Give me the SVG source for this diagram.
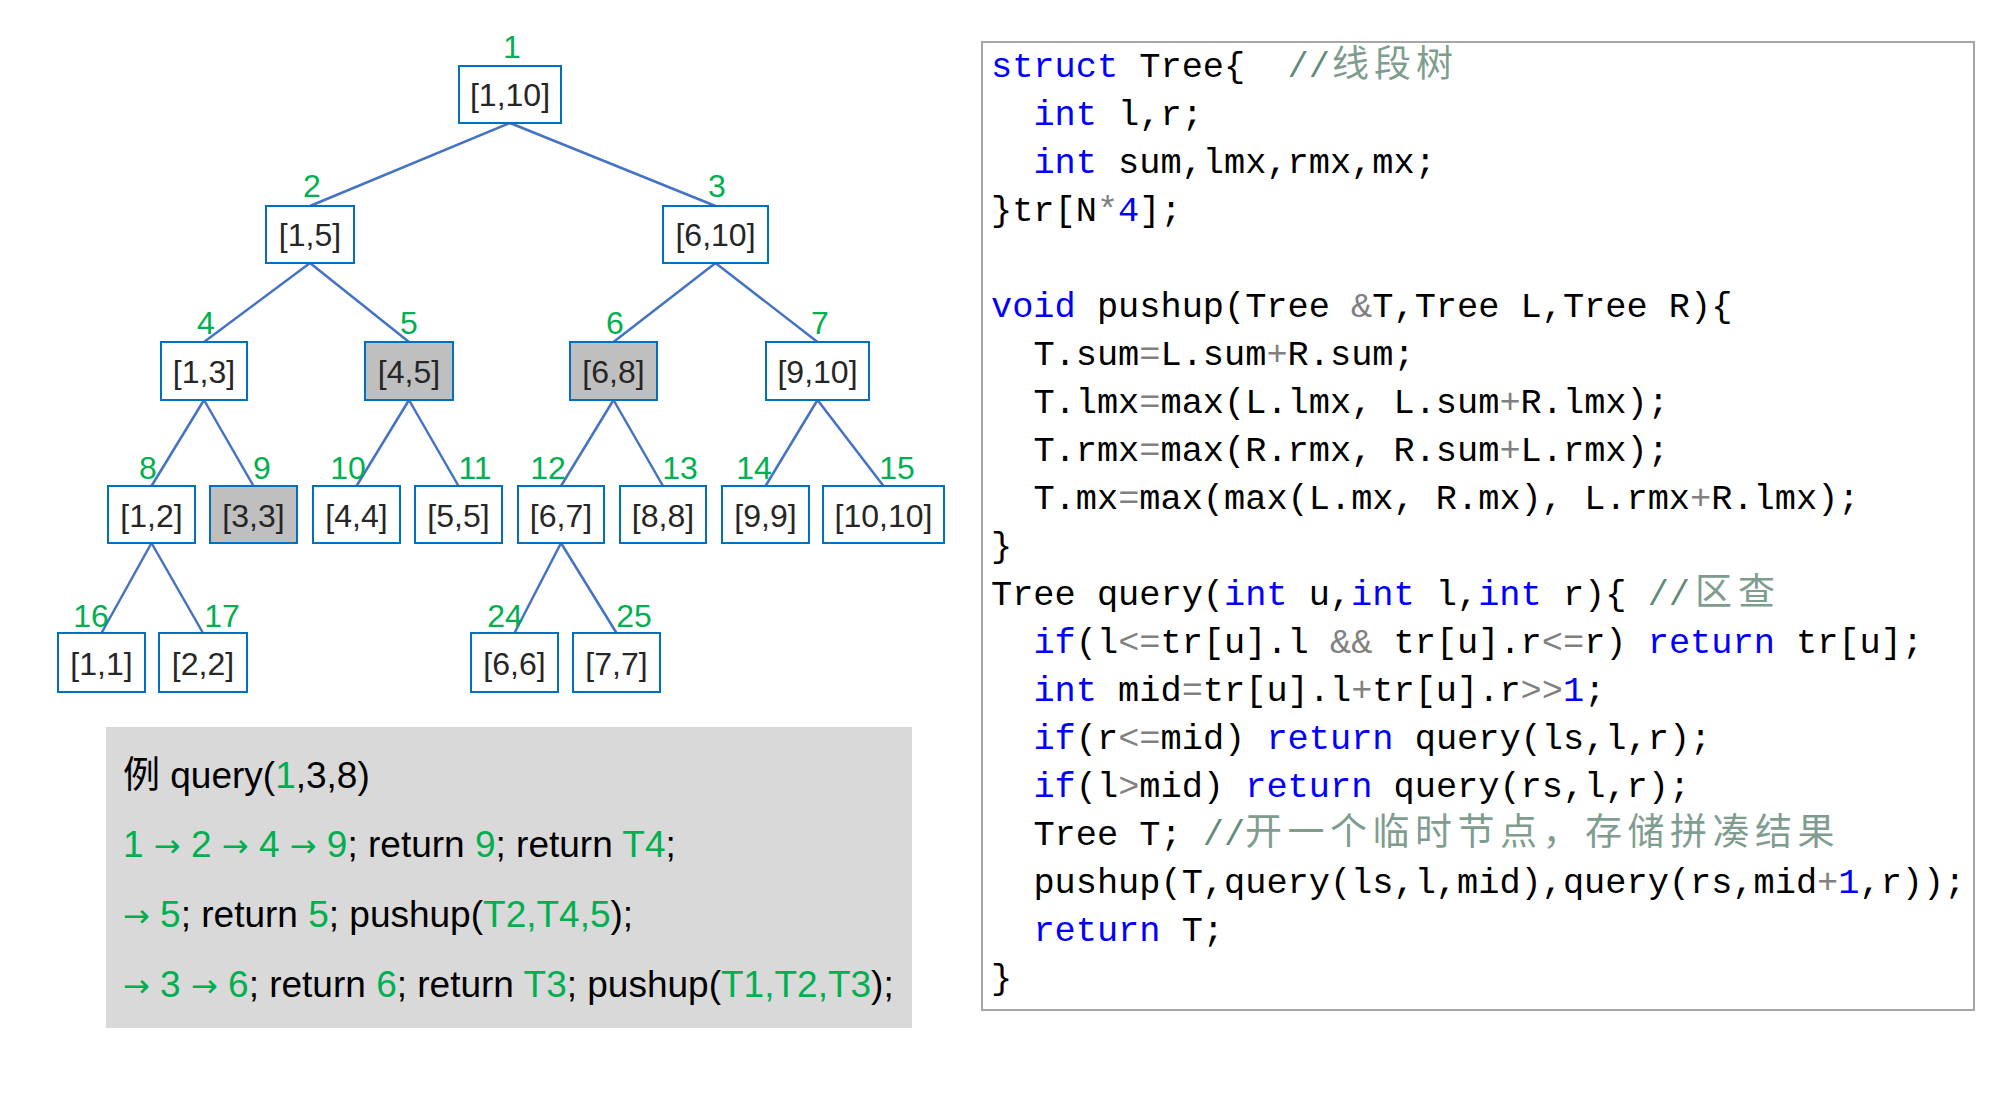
<svg xmlns="http://www.w3.org/2000/svg" width="1993" height="1093" viewBox="0 0 1993 1093">
<style>
.box{fill:#ffffff;stroke:#0070c0;stroke-width:2}
.hl{fill:#bfbfbf}
.nt{font-family:"Liberation Sans",Arial,sans-serif;font-size:32px;fill:#262626;text-anchor:middle}
.lb{font-family:"Liberation Sans",Arial,sans-serif;font-size:32px;fill:#00b050;text-anchor:middle}
.edge{stroke:#4472c4;stroke-width:2.5;fill:none}
.ex{font-family:"Liberation Sans",Arial,"Noto Sans CJK SC",sans-serif;font-size:37px;fill:#000000;white-space:pre}
.ar{font-family:"DejaVu Sans",sans-serif;font-size:32px}
.g{fill:#00b050}
.code{font-family:"Liberation Mono","DejaVu Sans Mono",monospace;font-size:35.3px;fill:#000000;white-space:pre}
.kw{fill:#0000ff}
.op{fill:#808080}
.cm{fill:#5f8c7c}
.cjk{font-family:"Noto Sans CJK SC",sans-serif;font-size:37px;fill:#7f9d8f}
</style>
<g id="connectors">
<line class="edge" x1="510" y1="123" x2="310" y2="206"/>
<line class="edge" x1="510" y1="123" x2="715.5" y2="206"/>
<line class="edge" x1="310" y1="263" x2="204" y2="342"/>
<line class="edge" x1="310" y1="263" x2="409" y2="342"/>
<line class="edge" x1="715.5" y1="263" x2="613.5" y2="342"/>
<line class="edge" x1="715.5" y1="263" x2="817.5" y2="342"/>
<line class="edge" x1="204" y1="400" x2="151.5" y2="486"/>
<line class="edge" x1="204" y1="400" x2="253.5" y2="486"/>
<line class="edge" x1="409" y1="400" x2="356.5" y2="486"/>
<line class="edge" x1="409" y1="400" x2="458.5" y2="486"/>
<line class="edge" x1="613.5" y1="400" x2="561" y2="486"/>
<line class="edge" x1="613.5" y1="400" x2="663" y2="486"/>
<line class="edge" x1="817.5" y1="400" x2="765.5" y2="486"/>
<line class="edge" x1="817.5" y1="400" x2="883.5" y2="486"/>
<line class="edge" x1="151.5" y1="543" x2="101.5" y2="633"/>
<line class="edge" x1="151.5" y1="543" x2="203" y2="633"/>
<line class="edge" x1="561" y1="543" x2="514.5" y2="633"/>
<line class="edge" x1="561" y1="543" x2="616.5" y2="633"/>
</g>
<g id="n1"><rect class="box" x="459" y="66" width="102" height="57"/><text class="nt" x="510" y="106">[1,10]</text><text class="lb" x="512" y="58">1</text></g>
<g id="n2"><rect class="box" x="266" y="206" width="88" height="57"/><text class="nt" x="310" y="246">[1,5]</text><text class="lb" x="312" y="197">2</text></g>
<g id="n3"><rect class="box" x="663" y="206" width="105" height="57"/><text class="nt" x="715.5" y="246">[6,10]</text><text class="lb" x="717" y="197">3</text></g>
<g id="n4"><rect class="box" x="161" y="342" width="86" height="58"/><text class="nt" x="204" y="383">[1,3]</text><text class="lb" x="206" y="334">4</text></g>
<g id="n5"><rect class="box hl" x="365" y="342" width="88" height="58"/><text class="nt" x="409" y="383">[4,5]</text><text class="lb" x="409" y="334">5</text></g>
<g id="n6"><rect class="box hl" x="570" y="342" width="87" height="58"/><text class="nt" x="613.5" y="383">[6,8]</text><text class="lb" x="615" y="334">6</text></g>
<g id="n7"><rect class="box" x="766" y="342" width="103" height="58"/><text class="nt" x="817.5" y="383">[9,10]</text><text class="lb" x="820" y="334">7</text></g>
<g id="n8"><rect class="box" x="108" y="486" width="87" height="57"/><text class="nt" x="151.5" y="527">[1,2]</text><text class="lb" x="148" y="479">8</text></g>
<g id="n9"><rect class="box hl" x="210" y="486" width="87" height="57"/><text class="nt" x="253.5" y="527">[3,3]</text><text class="lb" x="262" y="479">9</text></g>
<g id="n10"><rect class="box" x="313" y="486" width="87" height="57"/><text class="nt" x="356.5" y="527">[4,4]</text><text class="lb" x="348" y="479">10</text></g>
<g id="n11"><rect class="box" x="415" y="486" width="87" height="57"/><text class="nt" x="458.5" y="527">[5,5]</text><text class="lb" x="475" y="479">11</text></g>
<g id="n12"><rect class="box" x="518" y="486" width="86" height="57"/><text class="nt" x="561" y="527">[6,7]</text><text class="lb" x="548" y="479">12</text></g>
<g id="n13"><rect class="box" x="620" y="486" width="86" height="57"/><text class="nt" x="663" y="527">[8,8]</text><text class="lb" x="680" y="479">13</text></g>
<g id="n14"><rect class="box" x="722" y="486" width="87" height="57"/><text class="nt" x="765.5" y="527">[9,9]</text><text class="lb" x="754" y="479">14</text></g>
<g id="n15"><rect class="box" x="823" y="486" width="121" height="57"/><text class="nt" x="883.5" y="527">[10,10]</text><text class="lb" x="897" y="479">15</text></g>
<g id="n16"><rect class="box" x="58" y="633" width="87" height="59"/><text class="nt" x="101.5" y="675">[1,1]</text><text class="lb" x="91" y="627">16</text></g>
<g id="n17"><rect class="box" x="159" y="633" width="88" height="59"/><text class="nt" x="203" y="675">[2,2]</text><text class="lb" x="222" y="627">17</text></g>
<g id="n24"><rect class="box" x="471" y="633" width="87" height="59"/><text class="nt" x="514.5" y="675">[6,6]</text><text class="lb" x="505" y="627">24</text></g>
<g id="n25"><rect class="box" x="573" y="633" width="87" height="59"/><text class="nt" x="616.5" y="675">[7,7]</text><text class="lb" x="634" y="627">25</text></g>
<g id="example">
<rect x="106" y="727" width="806" height="301" fill="#d9d9d9"/>
<text class="ex" x="123" y="788">例 query(<tspan class="g">1</tspan>,3,8)</text>
<text class="ex" x="123" y="857"><tspan class="g">1 <tspan class="ar">→</tspan> 2 <tspan class="ar">→</tspan> 4 <tspan class="ar">→</tspan> 9</tspan>; return <tspan class="g">9</tspan>; return <tspan class="g">T4</tspan>;</text>
<text class="ex" x="123" y="927"><tspan class="g"><tspan class="ar">→</tspan> 5</tspan>; return <tspan class="g">5</tspan>; pushup(<tspan class="g">T2,T4,5</tspan>);</text>
<text class="ex" x="123" y="997"><tspan class="g"><tspan class="ar">→</tspan> 3 <tspan class="ar">→</tspan> 6</tspan>; return <tspan class="g">6</tspan>; return <tspan class="g">T3</tspan>; pushup(<tspan class="g">T1,T2,T3</tspan>);</text>
</g>
<g id="code">
<rect x="982" y="42" width="992" height="968" fill="#ffffff" stroke="#a6a6a6" stroke-width="2"/>
<text class="code" x="991" y="77"><tspan class="kw">struct</tspan> Tree{  <tspan class="cm">//</tspan></text>
<text class="cjk" x="1332 1374 1416" y="77">线段树</text>
<text class="code" x="1033.4" y="125"><tspan class="kw">int</tspan> l,r;</text>
<text class="code" x="1033.4" y="173"><tspan class="kw">int</tspan> sum,lmx,rmx,mx;</text>
<text class="code" x="991" y="221">}tr[N<tspan class="op">*</tspan><tspan class="kw">4</tspan>];</text>
<text class="code" x="991" y="317"><tspan class="kw">void</tspan> pushup(Tree <tspan class="op">&amp;</tspan>T,Tree L,Tree R){</text>
<text class="code" x="1033.4" y="365">T.sum<tspan class="op">=</tspan>L.sum<tspan class="op">+</tspan>R.sum;</text>
<text class="code" x="1033.4" y="413">T.lmx<tspan class="op">=</tspan>max(L.lmx, L.sum<tspan class="op">+</tspan>R.lmx);</text>
<text class="code" x="1033.4" y="461">T.rmx<tspan class="op">=</tspan>max(R.rmx, R.sum<tspan class="op">+</tspan>L.rmx);</text>
<text class="code" x="1033.4" y="509">T.mx<tspan class="op">=</tspan>max(max(L.mx, R.mx), L.rmx<tspan class="op">+</tspan>R.lmx);</text>
<text class="code" x="991" y="557">}</text>
<text class="code" x="991" y="605">Tree query(<tspan class="kw">int</tspan> u,<tspan class="kw">int</tspan> l,<tspan class="kw">int</tspan> r){ <tspan class="cm">//</tspan></text>
<text class="cjk" x="1695 1738" y="605">区查</text>
<text class="code" x="1033.4" y="653"><tspan class="kw">if</tspan>(l<tspan class="op">&lt;=</tspan>tr[u].l <tspan class="op">&amp;&amp;</tspan> tr[u].r<tspan class="op">&lt;=</tspan>r) <tspan class="kw">return</tspan> tr[u];</text>
<text class="code" x="1033.4" y="701"><tspan class="kw">int</tspan> mid<tspan class="op">=</tspan>tr[u].l<tspan class="op">+</tspan>tr[u].r<tspan class="op">&gt;&gt;</tspan><tspan class="kw">1</tspan>;</text>
<text class="code" x="1033.4" y="749"><tspan class="kw">if</tspan>(r<tspan class="op">&lt;=</tspan>mid) <tspan class="kw">return</tspan> query(ls,l,r);</text>
<text class="code" x="1033.4" y="797"><tspan class="kw">if</tspan>(l<tspan class="op">&gt;</tspan>mid) <tspan class="kw">return</tspan> query(rs,l,r);</text>
<text class="code" x="1033.4" y="845">Tree T; <tspan class="cm">//</tspan></text>
<text class="cjk" x="1245 1287.5 1330 1372.5 1415 1457.5 1500 1542.5 1585 1627.5 1670 1712.5 1755 1797.5" y="845">开一个临时节点，存储拼凑结果</text>
<text class="code" x="1033.4" y="893">pushup(T,query(ls,l,mid),query(rs,mid<tspan class="op">+</tspan><tspan class="kw">1</tspan>,r));</text>
<text class="code" x="1033.4" y="941"><tspan class="kw">return</tspan> T;</text>
<text class="code" x="991" y="989">}</text>
</g>
</svg>
